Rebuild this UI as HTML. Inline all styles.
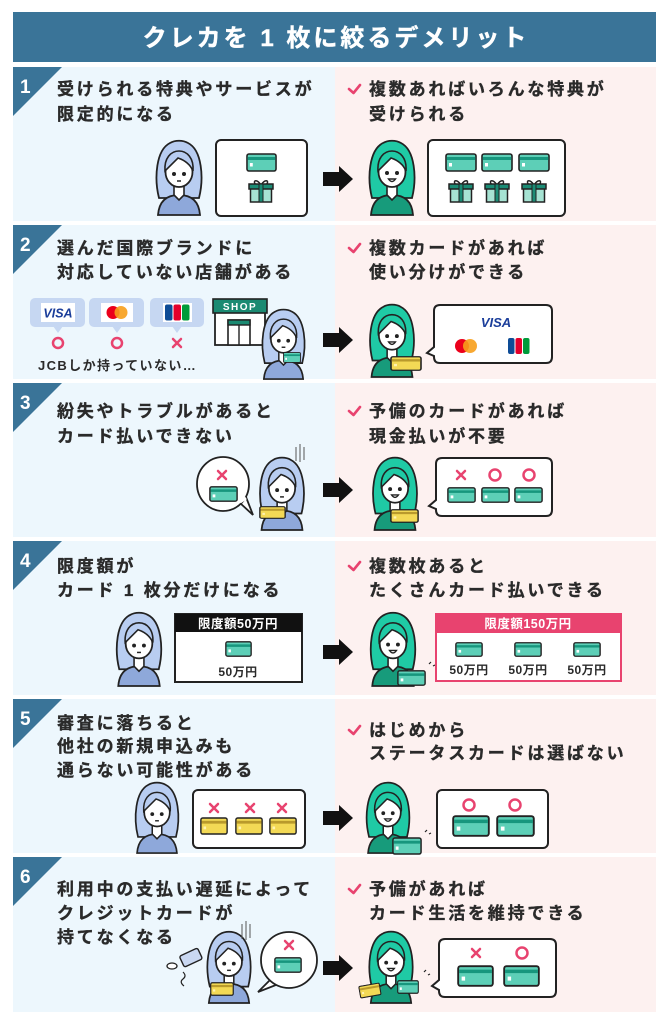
<!DOCTYPE html>
<html><head><meta charset="utf-8">
<style>
html,body{margin:0;padding:0;background:#fff;}
svg{display:block;}
.t{font-family:"Liberation Sans","Noto Sans CJK JP",sans-serif;font-weight:700;font-size:17px;letter-spacing:2.8px;fill:#2a2a2a;stroke:#2a2a2a;stroke-width:0.35px;}
.n{font-family:"Liberation Sans","Noto Sans CJK JP",sans-serif;font-weight:700;font-size:19px;fill:#fff;}
.s{font-family:"Liberation Sans","Noto Sans CJK JP",sans-serif;font-weight:700;font-size:12px;fill:#2a2a2a;letter-spacing:0.5px;}
.w{font-family:"Liberation Sans","Noto Sans CJK JP",sans-serif;font-weight:700;font-size:12.5px;fill:#fff;letter-spacing:0.5px;}
</style></head><body>
<svg width="669" height="1024" viewBox="0 0 669 1024" xmlns="http://www.w3.org/2000/svg">
<defs>
<symbol id="card" viewBox="0 0 32 19" preserveAspectRatio="none">
<rect x="1" y="1" width="30" height="17" rx="2" fill="#5dcfb7" stroke="#222" stroke-width="1.6"/>
<rect x="1.8" y="4" width="28.4" height="3" fill="#17967d"/>
<rect x="4" y="10" width="3" height="3.5" fill="#fff"/>
</symbol>
<symbol id="ycard" viewBox="0 0 32 19" preserveAspectRatio="none">
<rect x="1" y="1" width="30" height="17" rx="2" fill="#f3d955" stroke="#222" stroke-width="1.6"/>
<rect x="1.8" y="4" width="28.4" height="3" fill="#b99a2c"/>
<rect x="4" y="10" width="3" height="3" fill="#fff3b0"/>
</symbol>
<symbol id="gift" viewBox="0 0 26 25">
<path d="M13,7 C9,1 5,2 7,6 Z M13,7 C17,1 21,2 19,6 Z" fill="none" stroke="#222" stroke-width="1.5"/>
<rect x="2.5" y="10" width="21" height="14" fill="#a6e3d3" stroke="#222" stroke-width="1.5"/>
<rect x="1" y="6" width="24" height="5" fill="#1b8c75" stroke="#222" stroke-width="1.5"/>
<rect x="11" y="6" width="4" height="18" fill="#1b8c75" stroke="#222" stroke-width="1"/>
</symbol>
<symbol id="pb" viewBox="0 0 50 78">
<path d="M5,60 C0,40 2,12 16,5 C21,2 29,2 34,5 C48,12 50,40 45,60 Z" fill="#b8cdf1" stroke="#222" stroke-width="1.8"/>
<path d="M4,77 C5,64 12,57 25,57 C38,57 45,64 46,77 Z" fill="#8ea8da" stroke="#222" stroke-width="1.8"/>
<path d="M20,46 L20,57 L25,62 L30,57 L30,46 Z" fill="#fff" stroke="#222" stroke-width="1.6"/>
<ellipse cx="25" cy="34" rx="13.5" ry="15" fill="#fff" stroke="#222" stroke-width="1.8"/>
<path d="M11,33 C10,20 17,13 25,13 C33,13 40,20 39,33 C36,26 30,22 24,20 C19,25 15,29 11,33 Z" fill="#b8cdf1" stroke="#222" stroke-width="1.6"/>
<circle cx="20" cy="36" r="2" fill="#222"/><circle cx="30" cy="36" r="2" fill="#222"/>
<path d="M23,43 L27,43" stroke="#222" stroke-width="1.5"/>
</symbol>
<symbol id="pg" viewBox="0 0 50 78">
<path d="M5,60 C0,40 2,12 16,5 C21,2 29,2 34,5 C48,12 50,40 45,60 Z" fill="#1fcaa5" stroke="#222" stroke-width="1.8"/>
<path d="M4,77 C5,64 12,57 25,57 C38,57 45,64 46,77 Z" fill="#179b7b" stroke="#222" stroke-width="1.8"/>
<path d="M20,46 L20,57 L25,62 L30,57 L30,46 Z" fill="#fff" stroke="#222" stroke-width="1.6"/>
<ellipse cx="25" cy="34" rx="13.5" ry="15" fill="#fff" stroke="#222" stroke-width="1.8"/>
<path d="M11,33 C10,20 17,13 25,13 C33,13 40,20 39,33 C36,26 30,22 24,20 C19,25 15,29 11,33 Z" fill="#1fcaa5" stroke="#222" stroke-width="1.6"/>
<circle cx="20" cy="35" r="2" fill="#222"/><circle cx="30" cy="35" r="2" fill="#222"/>
<path d="M21.5,41 Q25,46 28.5,41 Z" fill="#fff" stroke="#222" stroke-width="1.4"/>
</symbol>
</defs>

<!-- Title -->
<rect x="13" y="12" width="643" height="50" fill="#3a7498"/>
<text x="336" y="46" text-anchor="middle" style="font-family:'Liberation Sans','Noto Sans CJK JP',sans-serif;font-weight:700;font-size:24px;letter-spacing:3px;fill:#fff;stroke:#fff;stroke-width:0.4px;">クレカを 1 枚に絞るデメリット</text>

<!-- Panel backgrounds -->
<g>
<rect x="13" y="67" width="322" height="154" fill="#edf7fd"/><rect x="335" y="67" width="321" height="154" fill="#fdf1f0"/>
<rect x="13" y="225" width="322" height="154" fill="#edf7fd"/><rect x="335" y="225" width="321" height="154" fill="#fdf1f0"/>
<rect x="13" y="383" width="322" height="154" fill="#edf7fd"/><rect x="335" y="383" width="321" height="154" fill="#fdf1f0"/>
<rect x="13" y="541" width="322" height="154" fill="#edf7fd"/><rect x="335" y="541" width="321" height="154" fill="#fdf1f0"/>
<rect x="13" y="699" width="322" height="154" fill="#edf7fd"/><rect x="335" y="699" width="321" height="154" fill="#fdf1f0"/>
<rect x="13" y="857" width="322" height="155" fill="#edf7fd"/><rect x="335" y="857" width="321" height="155" fill="#fdf1f0"/>
</g>

<!-- Number triangles -->
<g fill="#3a7498">
<polygon points="13,67 62,67 13,116"/>
<polygon points="13,225 62,225 13,274"/>
<polygon points="13,383 62,383 13,432"/>
<polygon points="13,541 62,541 13,590"/>
<polygon points="13,699 62,699 13,748"/>
<polygon points="13,857 62,857 13,906"/>
</g>
<text class="n" x="20" y="93">1</text>
<text class="n" x="20" y="251">2</text>
<text class="n" x="20" y="409">3</text>
<text class="n" x="20" y="567">4</text>
<text class="n" x="20" y="725">5</text>
<text class="n" x="20" y="883">6</text>

<!-- Check marks -->
<g fill="none" stroke="#e8436f" stroke-width="2.6" stroke-linecap="round" stroke-linejoin="round">
<polyline points="349,89 353.5,93 360,85"/>
<polyline points="349,248 353.5,252 360,244"/>
<polyline points="349,411 353.5,415 360,407"/>
<polyline points="349,566 353.5,570 360,562"/>
<polyline points="349,730 353.5,734 360,726"/>
<polyline points="349,889 353.5,893 360,885"/>
</g>

<!-- Texts -->
<text class="t" x="57" y="95">受けられる特典やサービスが</text>
<text class="t" x="57" y="120">限定的になる</text>
<text class="t" x="369" y="95">複数あればいろんな特典が</text>
<text class="t" x="369" y="120">受けられる</text>

<text class="t" x="57" y="254">選んだ国際ブランドに</text>
<text class="t" x="57" y="278">対応していない店舗がある</text>
<text class="t" x="369" y="254">複数カードがあれば</text>
<text class="t" x="369" y="278">使い分けができる</text>

<text class="t" x="57" y="417">紛失やトラブルがあると</text>
<text class="t" x="57" y="442">カード払いできない</text>
<text class="t" x="369" y="417">予備のカードがあれば</text>
<text class="t" x="369" y="442">現金払いが不要</text>

<text class="t" x="57" y="572">限度額が</text>
<text class="t" x="57" y="596">カード 1 枚分だけになる</text>
<text class="t" x="369" y="572">複数枚あると</text>
<text class="t" x="369" y="596">たくさんカード払いできる</text>

<text class="t" x="57" y="729">審査に落ちると</text>
<text class="t" x="57" y="752">他社の新規申込みも</text>
<text class="t" x="57" y="776">通らない可能性がある</text>
<text class="t" x="369" y="736">はじめから</text>
<text class="t" x="369" y="759">ステータスカードは選ばない</text>

<text class="t" x="57" y="895">利用中の支払い遅延によって</text>
<text class="t" x="57" y="919">クレジットカードが</text>
<text class="t" x="57" y="943">持てなくなる</text>
<text class="t" x="369" y="895">予備があれば</text>
<text class="t" x="369" y="919">カード生活を維持できる</text>

<!-- Arrows -->
<g fill="#111">
<polygon points="323,172 339,172 339,166 353,179 339,192 339,186 323,186"/>
<polygon points="323,333 339,333 339,327 353,340 339,353 339,347 323,347"/>
<polygon points="323,483 339,483 339,477 353,490 339,503 339,497 323,497"/>
<polygon points="323,645 339,645 339,639 353,652 339,665 339,659 323,659"/>
<polygon points="323,811 339,811 339,805 353,818 339,831 339,825 323,825"/>
<polygon points="323,961 339,961 339,955 353,968 339,981 339,975 323,975"/>
</g>

<!-- Panel 1 -->
<use href="#pb" x="154" y="138" width="50" height="78"/>
<rect x="216" y="140" width="91" height="76" rx="5" fill="#fff" stroke="#222" stroke-width="2"/>
<use href="#card" x="246" y="153" width="31" height="19"/>
<use href="#gift" x="248" y="178" width="26" height="25"/>
<use href="#pg" x="367" y="138" width="50" height="78"/>
<rect x="428" y="140" width="137" height="76" rx="5" fill="#fff" stroke="#222" stroke-width="2"/>
<use href="#card" x="445" y="153" width="32" height="19"/>
<use href="#card" x="481" y="153" width="32" height="19"/>
<use href="#card" x="518" y="153" width="32" height="19"/>
<use href="#gift" x="448" y="178" width="26" height="25"/>
<use href="#gift" x="484" y="178" width="26" height="25"/>
<use href="#gift" x="521" y="178" width="26" height="25"/>

<!-- Panel 2 -->
<g fill="#c6d7f2">
<rect x="30" y="298" width="55" height="29" rx="5"/><polygon points="53,326 63,326 58,333"/>
<rect x="89" y="298" width="55" height="29" rx="5"/><polygon points="112,326 122,326 117,333"/>
<rect x="150" y="298" width="54" height="29" rx="5"/><polygon points="172,326 182,326 177,333"/>
</g>
<rect x="41" y="303" width="34" height="19" fill="#fff"/>
<text x="58" y="317.5" text-anchor="middle" style="font-family:'Liberation Sans',sans-serif;font-weight:700;font-style:italic;font-size:12.5px;fill:#1a3d9a;">VISA</text>
<rect x="101" y="303" width="32" height="19" fill="#fff"/>
<circle cx="113" cy="312.5" r="6.5" fill="#eb001b"/><circle cx="121" cy="312.5" r="6.5" fill="#f79e1b" opacity="0.9"/>
<rect x="163" y="303" width="29" height="19" fill="#fff"/>
<rect x="165" y="304.5" width="7.5" height="16" rx="2" fill="#0e4c96"/>
<rect x="173.5" y="304.5" width="7.5" height="16" rx="2" fill="#e4002b"/>
<rect x="182" y="304.5" width="7.5" height="16" rx="2" fill="#009b3a"/>
<g fill="none" stroke="#e8436f" stroke-width="2.5" stroke-linecap="round">
<circle cx="58" cy="343" r="5"/><circle cx="117" cy="343" r="5"/>
<path d="M173,339 L181,347 M181,339 L173,347"/>
</g>
<text x="38" y="370" style="font-family:'Liberation Sans','Noto Sans CJK JP',sans-serif;font-weight:700;font-size:13px;letter-spacing:1.4px;fill:#2a2a2a;">JCBしか持っていない…</text>
<!-- shop -->
<rect x="215" y="312" width="50" height="33" fill="#fff" stroke="#222" stroke-width="1.8"/>
<rect x="213" y="299" width="54" height="14" fill="#1b8a72" stroke="#222" stroke-width="1.6"/>
<text x="240" y="310" text-anchor="middle" style="font-family:'Liberation Sans',sans-serif;font-weight:700;font-size:10px;letter-spacing:1.5px;fill:#fff;">SHOP</text>
<rect x="228" y="320" width="22" height="25" fill="#fff" stroke="#222" stroke-width="1.6"/>
<rect x="228" y="320" width="22" height="5" fill="#1b8a72" stroke="#222" stroke-width="1.4"/>
<line x1="239" y1="325" x2="239" y2="345" stroke="#222" stroke-width="1.4"/>
<use href="#pb" x="260" y="307" width="47" height="73"/>
<use href="#card" x="283" y="352" width="18" height="11"/>
<!-- right -->
<use href="#pg" x="367" y="302" width="50" height="76"/>
<use href="#ycard" x="390" y="356" width="32" height="15"/>
<path d="M440,305 H546 Q552,305 552,311 V357 Q552,363 546,363 H440 Q434,363 434,357 V356 L427,353 L434,347 V311 Q434,305 440,305 Z" fill="#fff" stroke="#222" stroke-width="2"/>
<text x="496" y="327" text-anchor="middle" style="font-family:'Liberation Sans',sans-serif;font-weight:700;font-style:italic;font-size:13px;fill:#1a3d9a;">VISA</text>
<circle cx="462" cy="346" r="7" fill="#eb001b"/><circle cx="470" cy="346" r="7" fill="#f79e1b" opacity="0.9"/>
<rect x="508" y="338" width="6.5" height="16" rx="2" fill="#0e4c96"/>
<rect x="515.5" y="338" width="6.5" height="16" rx="2" fill="#e4002b"/>
<rect x="523" y="338" width="6.5" height="16" rx="2" fill="#009b3a"/>

<!-- Panel 3 -->
<path d="M240,503 L253,515 L246,497 Z" fill="#fff" stroke="#222" stroke-width="1.8"/>
<ellipse cx="223" cy="484" rx="26" ry="27" fill="#fff" stroke="#222" stroke-width="1.8"/>
<path d="M240,502 L246,498" stroke="#fff" stroke-width="3"/>
<path d="M218,471 L226,479 M226,471 L218,479" stroke="#e8436f" stroke-width="2.5" stroke-linecap="round"/>
<use href="#card" x="209" y="486" width="29" height="16"/>
<use href="#pb" x="257" y="455" width="50" height="76"/>
<use href="#ycard" x="259" y="506" width="27" height="13"/>
<path d="M296,447 V461 M300,444 V462 M304,447 V460" stroke="#555" stroke-width="1"/>
<use href="#pg" x="370" y="455" width="50" height="76"/>
<use href="#ycard" x="390" y="509" width="29" height="14"/>
<path d="M442,458 H546 Q552,458 552,464 V510 Q552,516 546,516 H442 Q436,516 436,510 V509 L429,506 L436,500 V464 Q436,458 442,458 Z" fill="#fff" stroke="#222" stroke-width="2"/>
<g fill="none" stroke="#e8436f" stroke-width="2.5" stroke-linecap="round">
<path d="M457,471 L465,479 M465,471 L457,479"/>
<circle cx="495" cy="475" r="5.5"/><circle cx="529" cy="475" r="5.5"/>
</g>
<use href="#card" x="447" y="487" width="29" height="16"/>
<use href="#card" x="481" y="487" width="29" height="16"/>
<use href="#card" x="514" y="487" width="29" height="16"/>

<!-- Panel 4 -->
<use href="#pb" x="114" y="610" width="50" height="77"/>
<rect x="175" y="614" width="127" height="68" fill="#fff" stroke="#222" stroke-width="2"/>
<rect x="175" y="614" width="127" height="18" fill="#111"/>
<text class="w" x="238" y="628" text-anchor="middle">限度額50万円</text>
<use href="#card" x="225" y="641" width="27" height="16"/>
<text class="s" x="238" y="676" text-anchor="middle">50万円</text>
<use href="#pg" x="368" y="610" width="50" height="77"/>
<use href="#card" x="397" y="670" width="29" height="16"/>
<path d="M429,664 l2,-2 M433,666 l2,-1" stroke="#222" stroke-width="1.2"/>
<rect x="436" y="614" width="185" height="67" fill="#fff" stroke="#e8436f" stroke-width="2"/>
<rect x="436" y="614" width="185" height="19" fill="#e8436f"/>
<text class="w" x="528" y="628" text-anchor="middle">限度額150万円</text>
<use href="#card" x="455" y="642" width="28" height="15"/>
<use href="#card" x="514" y="642" width="28" height="15"/>
<use href="#card" x="573" y="642" width="28" height="15"/>
<text class="s" x="469" y="674" text-anchor="middle">50万円</text>
<text class="s" x="528" y="674" text-anchor="middle">50万円</text>
<text class="s" x="587" y="674" text-anchor="middle">50万円</text>

<!-- Panel 5 -->
<use href="#pb" x="133" y="780" width="48" height="74"/>
<rect x="193" y="790" width="112" height="58" rx="5" fill="#fff" stroke="#222" stroke-width="2"/>
<g stroke="#e8436f" stroke-width="2.5" stroke-linecap="round">
<path d="M210,804 L218,812 M218,804 L210,812"/>
<path d="M246,804 L254,812 M254,804 L246,812"/>
<path d="M278,804 L286,812 M286,804 L278,812"/>
</g>
<use href="#ycard" x="200" y="817" width="28" height="18"/>
<use href="#ycard" x="235" y="817" width="28" height="18"/>
<use href="#ycard" x="269" y="817" width="28" height="18"/>
<use href="#pg" x="364" y="780" width="48" height="74"/>
<use href="#card" x="392" y="837" width="30" height="18"/>
<path d="M425,832 l2,-2 M429,834 l2,-1" stroke="#222" stroke-width="1.2"/>
<rect x="437" y="790" width="111" height="58" rx="5" fill="#fff" stroke="#222" stroke-width="2"/>
<g fill="none" stroke="#e8436f" stroke-width="2.5"><circle cx="469" cy="805" r="5.5"/><circle cx="515" cy="805" r="5.5"/></g>
<use href="#card" x="452" y="815" width="38" height="22"/>
<use href="#card" x="496" y="815" width="39" height="22"/>

<!-- Panel 6 -->
<g transform="rotate(-25 190 958)"><rect x="181" y="952" width="20" height="12" rx="2" fill="#c9d8f2" stroke="#222" stroke-width="1.4"/></g>
<ellipse cx="172" cy="966" rx="5" ry="3" fill="#fff" stroke="#222" stroke-width="1.3"/>
<path d="M183,972 q4,4 0,7 q-4,3 1,7" fill="none" stroke="#222" stroke-width="1.2"/>
<use href="#pb" x="205" y="929" width="48" height="75"/>
<use href="#ycard" x="210" y="982" width="24" height="14"/>
<path d="M242,924 V939 M246,921 V940 M250,924 V938" stroke="#555" stroke-width="1"/>
<path d="M270,980 L258,992 L276,985 Z" fill="#fff" stroke="#222" stroke-width="1.8"/>
<ellipse cx="289" cy="960" rx="28" ry="28" fill="#fff" stroke="#222" stroke-width="1.8"/>
<path d="M285,941 L293,949 M293,941 L285,949" stroke="#e8436f" stroke-width="2.5" stroke-linecap="round"/>
<use href="#card" x="274" y="957" width="28" height="16"/>
<use href="#pg" x="366" y="929" width="50" height="75"/>
<g transform="rotate(-10 370 991)"><use href="#ycard" x="359" y="984" width="22" height="13"/></g>
<use href="#card" x="397" y="980" width="22" height="14"/>
<path d="M424,972 l2,-2 M428,975 l2,-1" stroke="#222" stroke-width="1.2"/>
<path d="M445,939 H550 Q556,939 556,945 V991 Q556,997 550,997 H445 Q439,997 439,991 V990 L432,986 L439,980 V945 Q439,939 445,939 Z" fill="#fff" stroke="#222" stroke-width="2"/>
<path d="M472,949 L480,957 M480,949 L472,957" stroke="#e8436f" stroke-width="2.5" stroke-linecap="round"/>
<circle cx="522" cy="953" r="5.5" fill="none" stroke="#e8436f" stroke-width="2.5"/>
<use href="#card" x="457" y="965" width="37" height="22"/>
<use href="#card" x="503" y="965" width="37" height="22"/>
</svg>
</body></html>
